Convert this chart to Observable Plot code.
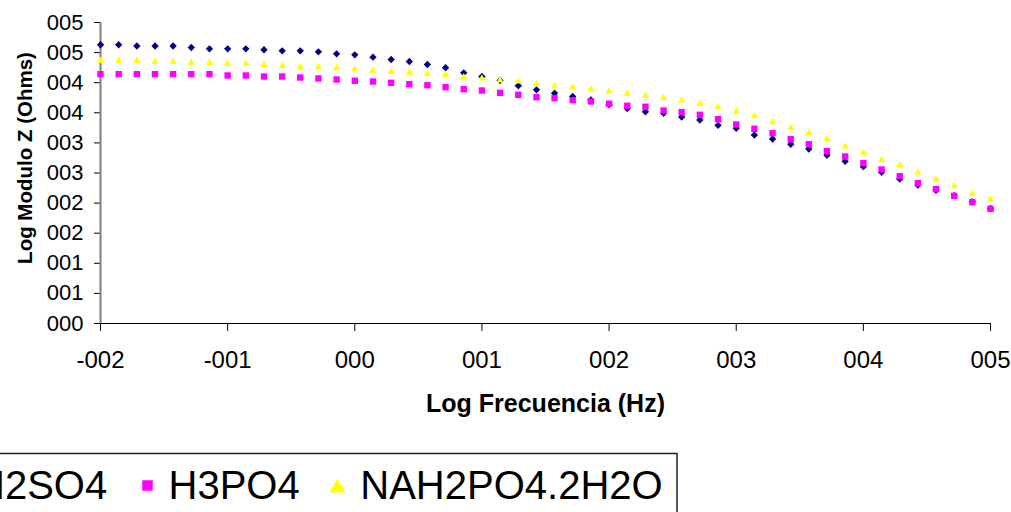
<!DOCTYPE html>
<html>
<head>
<meta charset="utf-8">
<script src="https://cdn.jsdelivr.net/npm/d3@7"></script>
<script src="https://cdn.jsdelivr.net/npm/@observablehq/plot@0.6"></script>
<style>
  html, body { margin: 0; padding: 0; background: #fff; }
  #wrap { position: relative; width: 1011px; height: 512px; overflow: hidden; font-family: 'Liberation Sans', Arial, sans-serif; }
  #legend { position: absolute; left: 0; top: 0; pointer-events: none; }
</style>
</head>
<body>
<div id="wrap"></div>
<script>
// ---- data ----
const seriesNames = ["H2SO4", "H3PO4", "NAH2PO4.2H2O"];
const seriesColors = ["#000080", "#FF00FF", "#FFFF00"];
const seriesSymbols = ["diamond2", "square", "triangle"];

const logFreq = [-2, -1.857, -1.714, -1.571, -1.429, -1.286, -1.143, -1,
  -0.857, -0.714, -0.571, -0.429, -0.286, -0.143, 0,
  0.143, 0.286, 0.429, 0.571, 0.714, 0.857, 1,
  1.143, 1.286, 1.429, 1.571, 1.714, 1.857, 2,
  2.143, 2.286, 2.429, 2.571, 2.714, 2.857, 3,
  3.143, 3.286, 3.429, 3.571, 3.714, 3.857, 4,
  4.143, 4.286, 4.429, 4.571, 4.714, 4.857, 5];

const h2so4 = [4.63, 4.63, 4.61, 4.61, 4.61, 4.585, 4.563, 4.563, 4.563, 4.547,
  4.53, 4.53, 4.513, 4.48, 4.463, 4.424, 4.385, 4.352, 4.302, 4.248,
  4.164, 4.103, 4.037, 3.949, 3.882, 3.826, 3.771, 3.716, 3.638, 3.571,
  3.517, 3.492, 3.43, 3.38, 3.292, 3.243, 3.131, 3.065, 2.977, 2.899,
  2.794, 2.694, 2.605, 2.512, 2.4, 2.301, 2.213, 2.123, 2.023, 1.91];

const h3po4 = [4.141, 4.141, 4.141, 4.141, 4.141, 4.141, 4.141, 4.12, 4.12, 4.103,
  4.103, 4.086, 4.07, 4.053, 4.032, 4.02, 3.998, 3.975, 3.958, 3.925,
  3.892, 3.87, 3.832, 3.799, 3.759, 3.743, 3.709, 3.688, 3.65, 3.616,
  3.6, 3.538, 3.51, 3.467, 3.394, 3.306, 3.234, 3.161, 3.061, 2.978,
  2.862, 2.774, 2.663, 2.558, 2.447, 2.331, 2.231, 2.121, 2.015, 1.905];

const nah2po4 = [4.364, 4.364, 4.364, 4.347, 4.347, 4.331, 4.331, 4.314, 4.314, 4.297,
  4.281, 4.258, 4.258, 4.24, 4.219, 4.198, 4.181, 4.169, 4.148, 4.131,
  4.091, 4.07, 4.037, 4.02, 3.975, 3.942, 3.925, 3.892, 3.854, 3.816,
  3.782, 3.749, 3.704, 3.65, 3.593, 3.522, 3.444, 3.344, 3.251, 3.161,
  3.061, 2.94, 2.836, 2.719, 2.63, 2.508, 2.392, 2.281, 2.154, 2.06];

const xTicks = [-2, -1, 0, 1, 2, 3, 4, 5];
const xTickLabels = ["-002", "-001", "000", "001", "002", "003", "004", "005"];
const yTicks = [0, 0.5, 1, 1.5, 2, 2.5, 3, 3.5, 4, 4.5, 5];
const yTickLabels = ["000", "001", "001", "002", "002", "003", "003", "004", "004", "005", "005"];

const xTitle = "Log Frecuencia (Hz)";
const yTitle = "Log Modulo Z (Ohms)";

// ---- build table ----
const seriesValues = [h2so4, h3po4, nah2po4];
const rows = [];
seriesNames.forEach((name, s) => {
  seriesValues[s].forEach((v, i) => rows.push({series: name, x: logFreq[i], y: v}));
});

const W = 1011, H = 445;
const FONT = "'Liberation Sans', Arial, sans-serif";

const chart = Plot.plot({
  width: W,
  height: H,
  marginLeft: 100,
  marginRight: 21,
  marginTop: 22,
  marginBottom: H - 323,
  style: {fontFamily: FONT, background: "#fff", color: "#000", overflow: "visible"},
  x: {domain: [-2, 5]},
  y: {domain: [0, 5]},
  marks: [
    Plot.axisY({
      ticks: yTicks,
      tickSize: 6,
      tickPadding: 11,
      tickFormat: d => yTickLabels[yTicks.indexOf(d)],
      fontSize: 22,
      label: null
    }),
    Plot.axisX({
      ticks: xTicks,
      tickSize: 8,
      tickPadding: 19,
      tickFormat: d => xTickLabels[xTicks.indexOf(d)],
      fontSize: 24,
      label: null
    }),
    Plot.ruleX([-2], {stroke: "#808080", strokeWidth: 2}),
    Plot.ruleY([0], {stroke: "#000", strokeWidth: 1.2}),
    ...seriesNames.map((name, s) =>
      Plot.dot(rows.filter(r => r.series === name), {
        x: "x",
        y: "y",
        symbol: () => seriesSymbols[s],
        fill: seriesColors[s],
        stroke: "none",
        r: [3.3, 3.6, 2.7][s]
      })
    ),
    Plot.text([xTitle], {
      text: d => d,
      frameAnchor: "bottom",
      textAnchor: "middle",
      lineAnchor: "middle",
      dy: 80,
      fontSize: 25,
      fontWeight: "bold",
      fill: "#000"
    }),
    Plot.text([yTitle], {
      text: d => d,
      frameAnchor: "left",
      textAnchor: "middle",
      lineAnchor: "middle",
      rotate: -90,
      dx: -74.6,
      dy: -15,
      fontSize: 20.5,
      fontWeight: "bold",
      fill: "#000"
    })
  ]
});

const wrap = document.getElementById("wrap");
wrap.appendChild(chart);

// ---- legend (below the plot SVG) ----
const lg = d3.select(wrap).append("svg")
  .attr("id", "legend")
  .attr("width", W)
  .attr("height", 512)
  .style("font-family", FONT);

lg.append("rect")
  .attr("x", -120).attr("y", 453.5)
  .attr("width", 797).attr("height", 120)
  .attr("fill", "#fff").attr("stroke", "#222").attr("stroke-width", 1.5);

const legendItems = [
  {name: seriesNames[0], color: seriesColors[0], sym: d3.symbolDiamond2, mx: -45, tx: -24},
  {name: seriesNames[1], color: seriesColors[1], sym: d3.symbolSquare, mx: 147.5, tx: 168.5},
  {name: seriesNames[2], color: seriesColors[2], sym: d3.symbolTriangle, mx: 337.5, tx: 360.3}
];
legendItems.forEach(it => {
  lg.append("path")
    .attr("d", d3.symbol(it.sym, 110)())
    .attr("transform", `translate(${it.mx},${it.sym === d3.symbolTriangle ? 488 : 485.5})`)
    .attr("fill", it.color);
  lg.append("text")
    .attr("x", it.tx).attr("y", 499.3)
    .attr("font-size", 40)
    .attr("fill", "#000")
    .text(it.name);
});
</script>
</body>
</html>
